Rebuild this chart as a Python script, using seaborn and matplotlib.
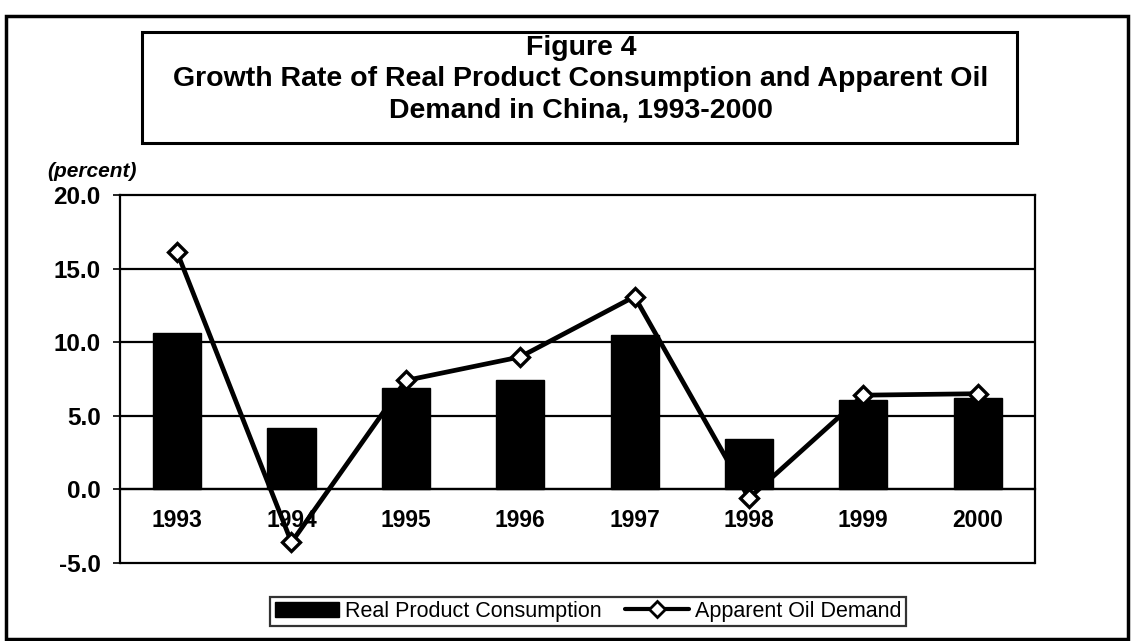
import matplotlib
matplotlib.use('Agg')
import matplotlib.pyplot as plt
import matplotlib.patches as mpatches
import matplotlib.lines as mlines
import numpy as np
import seaborn as sns

# data (percent)
years = ['1993', '1994', '1995', '1996', '1997', '1998', '1999', '2000']
real_consumption = [10.6, 4.2, 6.9, 7.4, 10.5, 3.4, 6.1, 6.2]
oil_demand = [16.1, -3.6, 7.4, 9.0, 13.1, -0.6, 6.4, 6.5]
y_ticks = [-5, 0, 5, 10, 15, 20]

sns.set_style('white')
plt.rcParams['font.family'] = ['Liberation Sans', 'DejaVu Sans']
plt.rcParams['font.weight'] = 'bold'
plt.rcParams['text.color'] = 'black'
plt.rcParams['xtick.color'] = 'black'
plt.rcParams['ytick.color'] = 'black'

fig = plt.figure(figsize=(11.35, 6.41), dpi=100)
ax = fig.add_axes([0.1057, 0.1217, 0.806, 0.5741])

sns.barplot(x=years, y=real_consumption, color='black', width=0.42,
            saturation=1, edgecolor='black', ax=ax, zorder=3)
sns.pointplot(x=years, y=oil_demand, color='black', markers='D',
              markersize=9, markerfacecolor='white', markeredgecolor='black',
              markeredgewidth=2.4, linewidth=3.4, ax=ax, zorder=4)

ax.set_xlim(-0.5, len(years) - 0.5)
ax.set_ylim(y_ticks[0], y_ticks[-1])
ax.set_yticks(y_ticks)
ax.set_yticklabels([f'{v:.1f}' for v in y_ticks], fontsize=17.5, fontweight='bold')
ax.set_xlabel('')
ax.set_ylabel('')

# gridlines like the Excel original
for v in y_ticks[1:-1]:
    ax.axhline(v, color='black', lw=1.6, zorder=1)
ax.axhline(y_ticks[0], color='black', lw=1.6, zorder=1, clip_on=False)

# category axis crosses at zero
for s in ['top', 'right', 'left']:
    ax.spines[s].set_color('black')
    ax.spines[s].set_linewidth(1.6)
ax.spines['bottom'].set_position(('data', 0))
ax.spines['bottom'].set_color('black')
ax.spines['bottom'].set_linewidth(1.6)
ax.spines['bottom'].set_zorder(2)

ax.tick_params(axis='x', which='major', length=0, pad=14, labelsize=16.5)
for lab in ax.get_xticklabels():
    lab.set_fontweight('bold')
ax.set_xticks(np.arange(len(years) + 1) - 0.5, minor=True)
ax.tick_params(axis='x', which='minor', length=5, width=1.2, direction='out')
ax.tick_params(axis='y', length=5, width=1.2, direction='out', left=True, pad=9)

fig.text(0.042, 0.718, '(percent)', fontsize=15, fontstyle='italic',
         fontweight='bold', ha='left', va='bottom')

# title box
fig.patches.append(mpatches.Rectangle((0.125, 0.777), 0.771, 0.173, transform=fig.transFigure,
                                      fill=False, edgecolor='black', lw=2.2))
title_lines = ['Figure 4',
               'Growth Rate of Real Product Consumption and Apparent Oil',
               'Demand in China, 1993-2000']
for txt, yy in zip(title_lines, [0.925, 0.877, 0.828]):
    fig.text(0.512, yy, txt, fontsize=20.5, fontweight='bold', ha='center', va='center')

# outer border
fig.patches.append(mpatches.Rectangle((0.005, 0.003), 0.989, 0.972, transform=fig.transFigure,
                                      fill=False, edgecolor='black', lw=2.5))

bar_handle = mpatches.Patch(facecolor='black', edgecolor='black', label='Real Product Consumption')
line_handle = mlines.Line2D([], [], color='black', lw=3, marker='D', markersize=8,
                            markerfacecolor='white', markeredgewidth=2,
                            label='Apparent Oil Demand')
leg = fig.legend(handles=[bar_handle, line_handle], loc='center', bbox_to_anchor=(0.518, 0.046),
                 ncol=2, frameon=True, fancybox=False, edgecolor='black',
                 handlelength=3.0, handletextpad=0.25, columnspacing=1.1, borderpad=0.2,
                 prop={'weight': 'normal', 'size': 15.5})
leg.get_frame().set_linewidth(1.6)

fig.savefig('out.png', dpi=100)
